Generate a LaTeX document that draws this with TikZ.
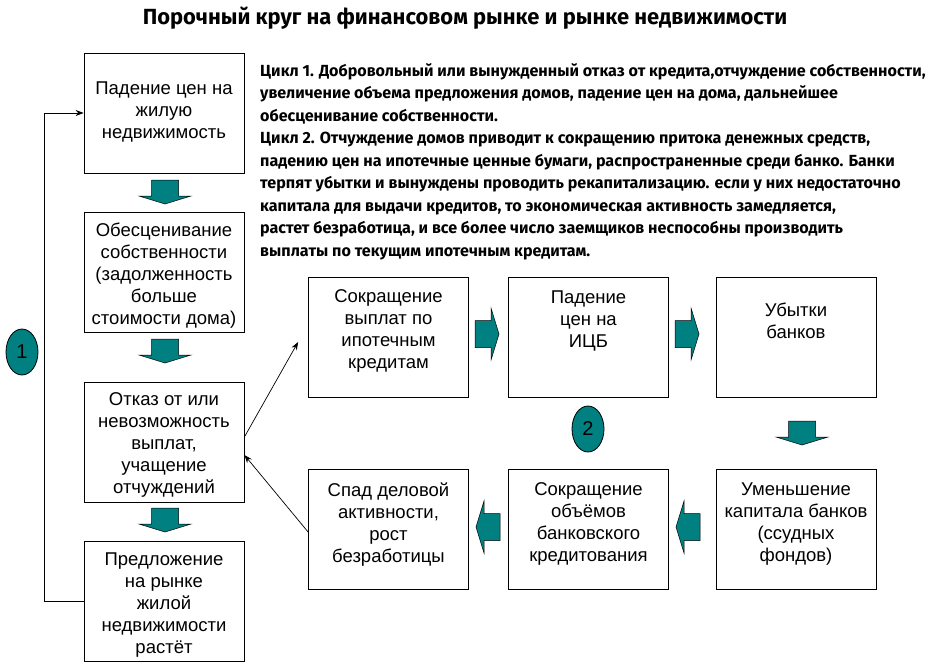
\documentclass[tikz,border=0pt]{standalone}
\usepackage{fontspec}
\setmainfont{Liberation Sans}
\newfontfamily\notefont{Fira Sans}
\usetikzlibrary{arrows.meta,positioning,shapes.geometric}
\definecolor{cycleteal}{RGB}{0,128,128}

\tikzset{
  stage/.style={draw, line width=0.8pt, minimum width=160pt, minimum height=120pt, inner sep=0pt},
  stagetext/.style={align=center, inner sep=0pt, font=\fontsize{18.5}{22}\selectfont},
  thinarrow/.style={-{Stealth[length=8pt,width=6pt]}, line width=0.7pt},
  cyclemark/.style={ellipse, draw, line width=0.8pt, fill=cycleteal, minimum width=32pt,
    minimum height=46pt, inner sep=0pt, font=\fontsize{20}{20}\selectfont},
  blockarrow/.pic={\filldraw[fill=cycleteal, draw=black, line width=0.5pt]
    (0,-13.5) -- (16,-13.5) -- (16,-26) -- (24,0) -- (16,26) -- (16,13.5) -- (0,13.5) -- cycle;}
}

\begin{document}
\begin{tikzpicture}[x=1pt,y=-1pt]
  \useasboundingbox (0,0) rectangle (931,664);

  % heading and notes
  \node[font=\notefont\bfseries\fontsize{21.9}{24}\selectfont] (title) at (465,18)
    {Порочный круг на финансовом рынке и рынке недвижимости};
  \node[anchor=north west, align=left, inner sep=0pt,
    font=\notefont\bfseries\fontsize{16.1}{22.5}\selectfont] (note) at (260,63)
    {Цикл 1. Добровольный или вынужденный отказ от кредита,отчуждение собственности,\\
     увеличение объема предложения домов, падение цен на дома, дальнейшее\\
     обесценивание собственности.\\
     Цикл 2. Отчуждение домов приводит к сокращению притока денежных средств,\\
     падению цен на ипотечные ценные бумаги, распространенные среди банко. Банки\\
     терпят убытки и вынуждены проводить рекапитализацию. если у них недостаточно\\
     капитала для выдачи кредитов, то экономическая активность замедляется,\\
     растет безработица, и все более число заемщиков неспособны производить\\
     выплаты по текущим ипотечным кредитам.};

  % cycle 1
  \node[stage] (fall) at (164,113) {};
  \node[stage] (deprec) at (164,272) {};
  \node[stage] (refuse) at (164,442) {};
  \node[stage] (offer) at (164,601.5) {};
  \node[stagetext, below=29pt of fall.north] (fall-t) {Падение цен на\\жилую\\недвижимость};
  \node[stagetext, below=11pt of deprec.north] (deprec-t)
    {Обесценивание\\собственности\\(задолженность\\больше\\стоимости дома)};
  \node[stagetext, below=11pt of refuse.north] (refuse-t)
    {Отказ от или\\невозможность\\выплат,\\учащение\\отчуждений};
  \node[stagetext, below=11pt of offer.north] (offer-t)
    {Предложение\\на рынке\\жилой\\недвижимости\\растёт};
  \pic[rotate=-90] at (165,180) {blockarrow};
  \pic[rotate=-90] at (165,339) {blockarrow};
  \pic[rotate=-90] at (165,508) {blockarrow};
  \draw[thinarrow] (offer.west) -- ++(-39,0) |- (fall.west);
  \node[cyclemark] (cyc1) at (22,352) {1};

  % cycle 2
  \node[stage] (cutpay) at (388.5,337) {};
  \node[stage] (ucb) at (588.5,337) {};
  \node[stage] (losses) at (796,337) {};
  \node[stage] (slump) at (388.5,529) {};
  \node[stage] (credit) at (588.5,529) {};
  \node[stage] (capital) at (796,529) {};
  \node[stagetext, below=13pt of cutpay.north] (cutpay-t)
    {Сокращение\\выплат по\\ипотечным\\кредитам};
  \node[stagetext, below=14pt of ucb.north] (ucb-t) {Падение\\цен на\\ИЦБ};
  \node[stagetext, below=26pt of losses.north] (losses-t) {Убытки\\банков};
  \node[stagetext, below=14pt of slump.north] (slump-t)
    {Спад деловой\\активности,\\рост\\безработицы};
  \node[stagetext, below=14pt of credit.north] (credit-t)
    {Сокращение\\объёмов\\банковского\\кредитования};
  \node[stagetext, below=14pt of capital.north] (capital-t)
    {Уменьшение\\капитала банков\\(ссудных\\фондов)};
  \pic at (475,334) {blockarrow};
  \pic at (675,334) {blockarrow};
  \pic[rotate=-90] at (802,421) {blockarrow};
  \pic[rotate=180] at (700,527) {blockarrow};
  \pic[rotate=180] at (500,527) {blockarrow};
  \node[cyclemark] (cyc2) at (588,429) {2};

  \draw[thinarrow] ([yshift=5pt]refuse.east) -- ([xshift=-10pt,yshift=-5pt]cutpay.west);
  \draw[thinarrow] ([yshift=-3pt]slump.west) -- ([yshift=-13pt]refuse.east);
\end{tikzpicture}
\end{document}
